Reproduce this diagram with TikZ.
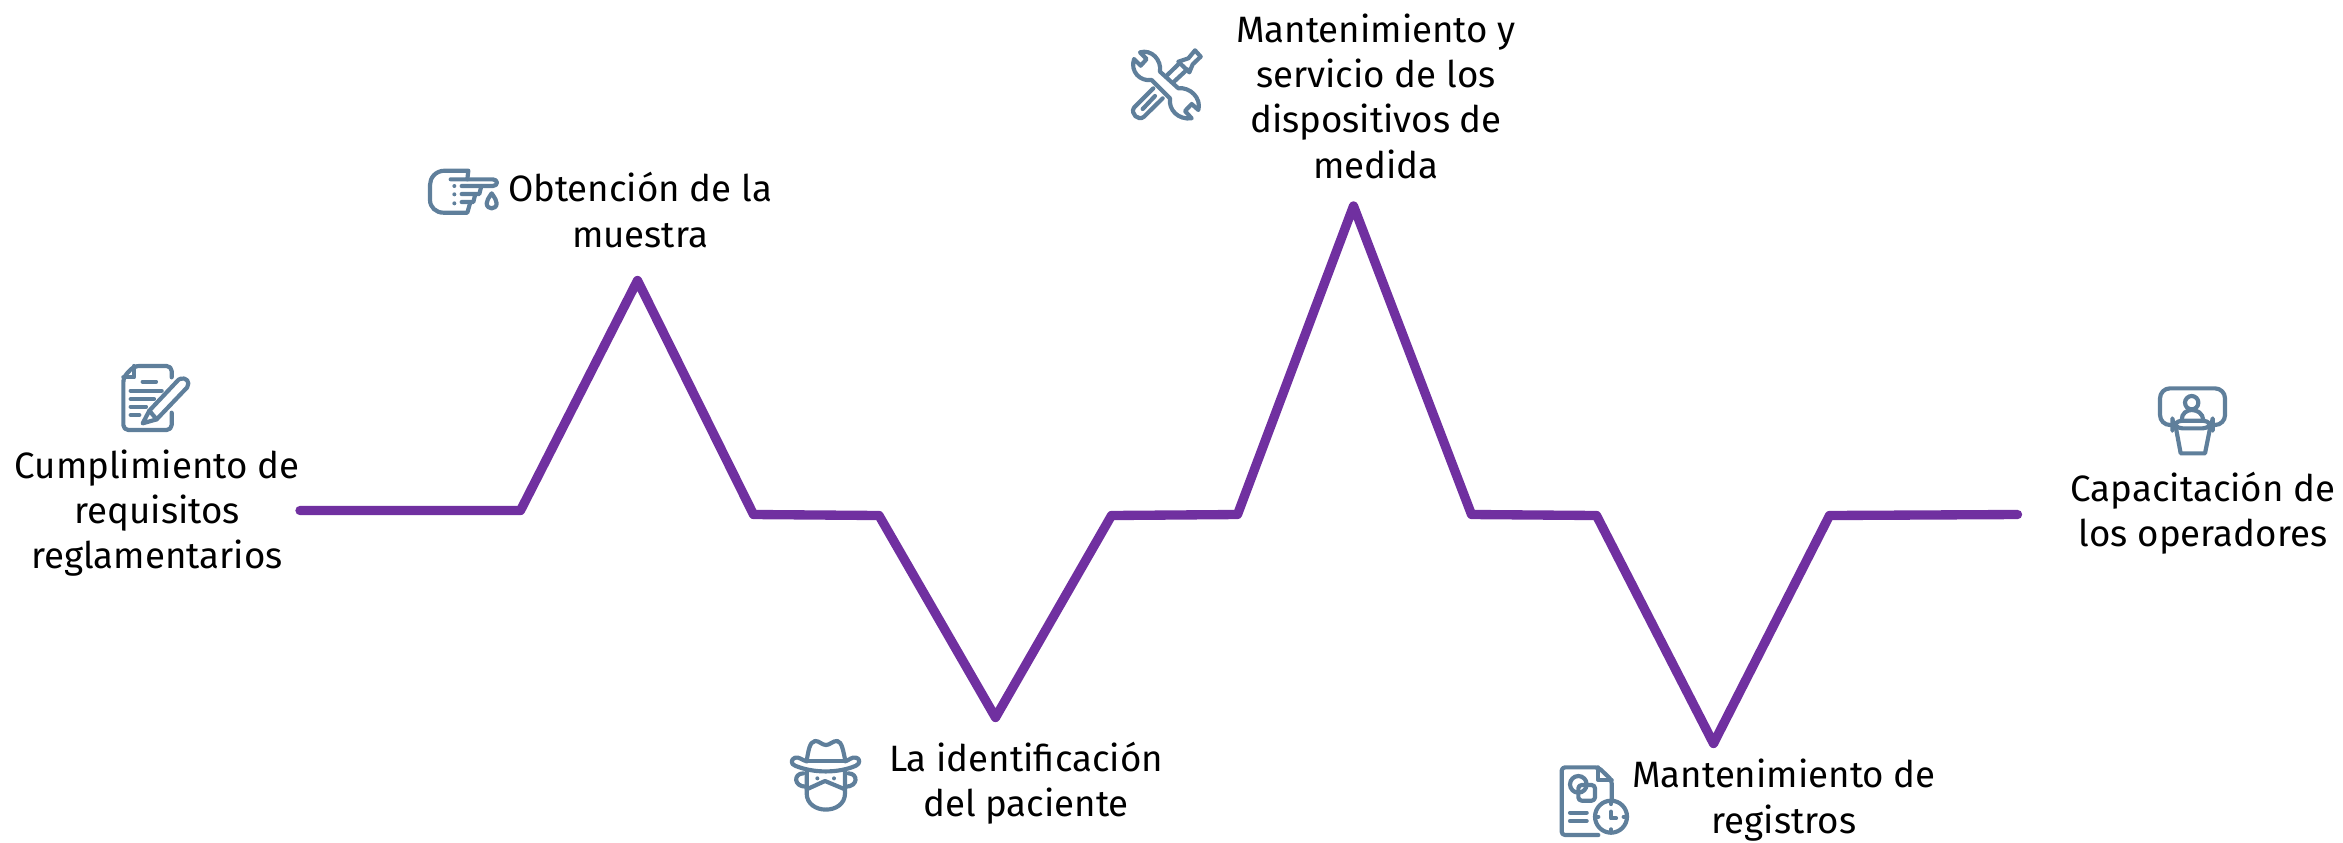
\documentclass[tikz,border=0pt]{standalone}
\usepackage{fontspec}
\setmainfont{Fira Sans}
\definecolor{lin}{HTML}{7030A0}
\definecolor{ico}{HTML}{5F7F9B}
\tikzset{
 lab/.style={align=center,font=\fontsize{11}{13.6}\selectfont,text=black,inner sep=0pt},
 trace/.style={draw=lin,line width=2.8pt,line join=round,line cap=round},
 ic/.style={draw=ico,line width=1.25pt,line join=round,line cap=round},
 icz/.style={shift={#1},x=0.1pt,y=-0.1pt}
}
\begin{document}
\begin{tikzpicture}[x=0.3pt,y=-0.3pt]
\useasboundingbox (0,0) rectangle (2343,842);
\foreach \n/\x/\y in {1/300/510.5,2/520.5/510.5,3/637.5/280.5,4/753.5/514.5,5/879/515.5,6/995.5/717.5,7/1111.5/515.5,8/1237.5/514.5,9/1353.5/206,10/1471.5/514.5,11/1596.5/515.5,12/1713.5/743.5,13/1829.5/515.5,14/2017.5/514.5}
  \coordinate (p\n) at (\x,\y);
\draw[trace] (p1)--(p2)--(p3)--(p4)--(p5)--(p6)--(p7)--(p8)--(p9)--(p10)--(p11)--(p12)--(p13)--(p14);
\node[lab] (t1) at (157,513) {Cumplimiento de\\requisitos\\reglamentarios};
\node[lab] (t2) at (640,210) {Obtención de la\\muestra};
\node[lab] (t3) at (1026,783) {La identificación\\del paciente};
\node[lab] (t4) at (1376,96) {Mantenimiento y\\servicio de los\\dispositivos de\\medida};
\node[lab] (t5) at (1784,800) {Mantenimiento de\\registros};
\node[lab] (t6) at (2203,513) {Capacitación de\\los operadores};
% document and pencil
\begin{scope}[icz={(60,340)}]
\draw[ic,rounded corners=1.5pt] (335,112)--(335,78)--(222,78)--(190,112)--(190,270)--(335,270)--(335,218);
\draw[ic] (222,78)--(222,112)--(190,112);
\draw[ic] (248,125)--(288,125) (212,152)--(305,152) (212,177)--(282,177) (212,200)--(258,200) (212,225)--(238,225);
\draw[ic,fill=white] (248,250)--(268,212)--(350,125) .. controls (362,108) and (385,115) .. (385,130) .. controls (385,140) and (380,145) .. (372,152)--(290,238)--cycle;
\draw[ic] (268,212)--(290,238);
\end{scope}
% hand
\begin{scope}[icz={(410,150)}]
\draw[ic] (172,88)--(175,62)--(105,62) .. controls (75,62) and (60,85) .. (60,105)--(60,150) .. controls (60,172) and (78,188) .. (100,188)--(172,188)--(180,160);
\draw[ic] (122,88)--(248,88) .. controls (265,88) and (265,108) .. (248,108)--(155,108);
\draw[ic] (155,132)--(208,132)--(214,108) (155,156)--(190,156)--(196,132);
\fill[ico] (133,108) circle (6) (133,133) circle (6) (133,160) circle (6);
\draw[ic] (245,130) .. controls (235,145) and (230,152) .. (230,160) .. controls (230,180) and (260,180) .. (260,160) .. controls (260,152) and (255,145) .. (245,130)--cycle;
\end{scope}
% hat face
\begin{scope}[icz={(770,720)}]
\draw[ic] (110,122) .. controls (115,95) and (118,65) .. (135,63) .. controls (148,62) and (155,75) .. (168,75) .. controls (180,75) and (188,62) .. (202,63) .. controls (216,65) and (220,95) .. (226,122);
\draw[ic] (110,124)--(226,124);
\draw[ic] (110,124) .. controls (95,120) and (88,110) .. (75,113) .. controls (62,118) and (62,132) .. (75,137) .. controls (130,160) and (205,160) .. (258,137) .. controls (272,130) and (270,115) .. (258,113) .. controls (245,110) and (238,120) .. (226,124);
\draw[ic] (110,155)--(110,220) .. controls (110,285) and (225,285) .. (225,220)--(225,155);
\draw[ic] (110,208)--(165,183)--(225,208);
\fill[ico] (142,175) circle (6) (192,175) circle (6);
\draw[ic] (100,160) .. controls (70,160) and (70,200) .. (108,200);
\draw[ic] (235,160) .. controls (265,160) and (265,200) .. (227,200);
\end{scope}
% tools
\begin{scope}[icz={(1110,35)}]
\draw[ic] (130,160)--(72,218) .. controls (60,235) and (85,260) .. (102,245)--(158,190);
\draw[ic] (98,222)--(135,183);
\draw[ic] (170,122)--(208,85) (192,140)--(232,103);
\draw[ic] (205,80)--(235,70)--(255,46)--(272,65)--(248,88)--(238,112)--cycle;
\draw[ic] (90,52) .. controls (125,42) and (155,75) .. (150,110)--(205,160) .. controls (240,155) and (275,190) .. (265,225)--(245,207)--(225,228)--(245,250) .. controls (205,255) and (175,225) .. (180,190)--(125,135) .. controls (90,140) and (60,110) .. (72,72)--(92,92)--(110,72)--cycle;
\end{scope}
% record
\begin{scope}[icz={(1540,750)}]
\draw[ic,rounded corners=1pt] (215,150)--(215,90)--(175,52)--(65,52)--(65,255)--(175,255);
\draw[ic] (175,52)--(175,90)--(215,90);
\draw[ic] (115,103) circle (25);
\draw[ic,rounded corners=1pt] (115,105) rectangle (165,152);
\draw[ic] (90,188)--(140,188) (90,213)--(140,213);
\draw[ic] (213,200) circle (48);
\draw[ic] (213,152)--(213,162) (213,238)--(213,248) (165,200)--(175,200) (251,200)--(261,200);
\draw[ic] (213,185)--(213,205)--(228,205);
\end{scope}
% lectern
\begin{scope}[icz={(2140,370)}]
\draw[ic,rounded corners=3pt] (95,165)--(60,165)--(60,55)--(255,55)--(255,165)--(218,165);
\draw[ic] (155,98) circle (20);
\draw[ic] (125,150) .. controls (125,130) and (140,120) .. (155,120) .. controls (172,120) and (188,130) .. (190,150);
\draw[ic,rounded corners=3pt,fill=white] (97,152)--(218,152)--(218,175)--(97,175)--cycle;
\draw[ic] (108,175)--(122,250)--(195,250)--(210,175);
\end{scope}
\end{tikzpicture}
\end{document}
